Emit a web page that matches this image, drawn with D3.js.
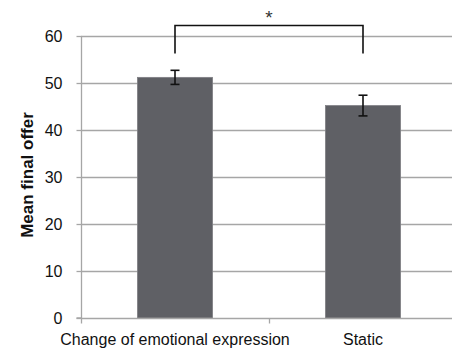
<!DOCTYPE html>
<html><head><meta charset="utf-8">
<script src="https://cdn.jsdelivr.net/npm/d3@7"></script>
<style>body{margin:0;background:#fff;}svg{display:block;}</style>
</head><body>
<svg id="c" width="452" height="349"></svg>
<script>
const categories = ["Change of emotional expression", "Static"];
const means = [51.2, 45.2];
const errors = [1.5, 2.2];
const yTicks = [0, 10, 20, 30, 40, 50, 60];
const yTitle = "Mean final offer";
const sigLabel = "*";

const svg = d3.select("#c");
const x = d3.scaleBand().domain(categories).range([81, 457]).paddingInner(0.6).paddingOuter(0.3);
const y = d3.scaleLinear().domain([0, 60]).range([318, 36]);
const font = "'Liberation Sans', Arial, sans-serif";

// grid
svg.append("g").selectAll("line").data(yTicks.filter(d => d > 0)).join("line")
  .attr("x1", 81).attr("x2", 452).attr("y1", d => Math.round(y(d)) + 0.5).attr("y2", d => Math.round(y(d)) + 0.5)
  .attr("stroke", "#a6a6a6").attr("stroke-width", 1.3);

// bars
svg.append("g").selectAll("rect").data(categories).join("rect")
  .attr("x", d => x(d)).attr("width", x.bandwidth())
  .attr("y", (d, i) => y(means[i])).attr("height", (d, i) => y(0) - y(means[i]))
  .attr("fill", "#5f6065").attr("stroke", "#808085").attr("stroke-width", 0.8);

// error bars
const eg = svg.append("g").attr("stroke", "#111").attr("stroke-width", 1.6);
categories.forEach((c, i) => {
  const cx = x(c) + x.bandwidth() / 2;
  eg.append("line").attr("x1", cx).attr("x2", cx).attr("y1", y(means[i] + errors[i])).attr("y2", y(means[i] - errors[i]));
  eg.append("line").attr("x1", cx - 4.5).attr("x2", cx + 4.5).attr("y1", y(means[i] + errors[i])).attr("y2", y(means[i] + errors[i]));
  eg.append("line").attr("x1", cx - 4.5).attr("x2", cx + 4.5).attr("y1", y(means[i] - errors[i])).attr("y2", y(means[i] - errors[i]));
});

// y axis
const yAxis = svg.append("g").attr("transform", "translate(81.5,0)")
  .call(d3.axisLeft(y).tickValues(yTicks).tickSize(5).tickPadding(14));
yAxis.select(".domain").attr("stroke", "#a6a6a6").attr("stroke-width", 1.3).attr("d", "M-5," + y(0) + "H0V" + y(60));
yAxis.selectAll(".tick line").attr("stroke", "#a6a6a6").attr("stroke-width", 1.3);
yAxis.selectAll(".tick text").attr("font-family", font).attr("font-size", 16).attr("fill", "#111");

// x axis
const xAxis = svg.append("g").attr("transform", "translate(0," + (y(0) + 0.5) + ")");
xAxis.append("line").attr("x1", 81).attr("x2", 452).attr("y1", 0).attr("y2", 0).attr("stroke", "#a6a6a6").attr("stroke-width", 1.3);
const step = x.step();
xAxis.selectAll("line.t").data([0, 1, 2]).join("line").attr("class", "t")
  .attr("x1", d => 81.5 + d * step).attr("x2", d => 81.5 + d * step).attr("y1", 0).attr("y2", 5)
  .attr("stroke", "#a6a6a6").attr("stroke-width", 1.3);
xAxis.selectAll("text").data(categories).join("text")
  .attr("x", d => x(d) + x.bandwidth() / 2).attr("y", 26)
  .attr("text-anchor", "middle").attr("font-family", font).attr("font-size", 16).attr("fill", "#111")
  .text(d => d);

// y title
svg.append("text").attr("transform", "translate(33,175) rotate(-90)")
  .attr("text-anchor", "middle").attr("font-family", font).attr("font-size", 17).attr("font-weight", "bold").attr("fill", "#111")
  .text(yTitle);

// significance bracket
const c1 = x(categories[0]) + x.bandwidth() / 2, c2 = x(categories[1]) + x.bandwidth() / 2;
svg.append("path").attr("d", `M${c1},53.5V25.5H${c2}V53.5`).attr("fill", "none").attr("stroke", "#111").attr("stroke-width", 1.6);
svg.append("text").attr("x", (c1 + c2) / 2).attr("y", 24).attr("text-anchor", "middle")
  .attr("font-family", font).attr("font-size", 19).attr("fill", "#333").text(sigLabel);
</script>
</body></html>
